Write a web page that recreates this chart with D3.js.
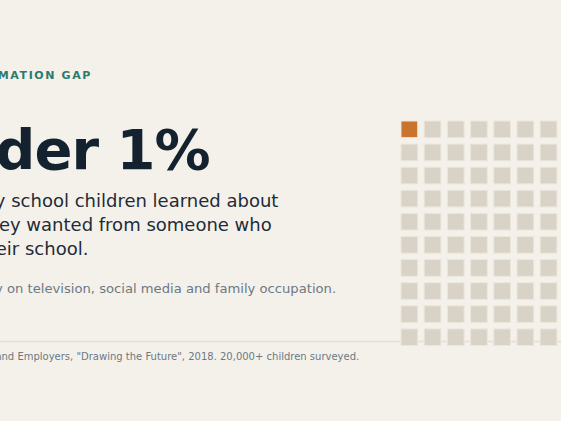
<!DOCTYPE html>
<html>
<head>
<meta charset="utf-8">
<script src="https://cdn.jsdelivr.net/npm/d3@7"></script>
<style>
  html, body { margin: 0; padding: 0; background: #f4f1ea; overflow: hidden; }
  svg { display: block; font-family: "DejaVu Sans", sans-serif; }
</style>
</head>
<body>
<div id="chart"></div>
<script>
// data
const eyebrow = "NEW INFORMATION GAP";
const headline = "Under 1%";
const bodyLines = [
    "of primary school children learned about",
    "the job they wanted from someone who",
    "visited their school."
];
const subLine = "Most kids rely on television, social media and family occupation.";
const sourceLine = "Data: Education and Employers, \"Drawing the Future\", 2018. 20,000+ children surveyed.";

// waffle: 100 children, 1 learned from a school visitor
const total = 100;
const highlighted = 1;
const gridCols = d3.range(10);
const gridRows = d3.range(10);

const width = 561, height = 421;
const left = -88;

const svg = d3.select('#chart').append('svg')
    .attr('width', width)
    .attr('height', height);

svg.append('rect')
    .attr('width', width)
    .attr('height', height)
    .attr('fill', '#f4f1ea');

// divider above the source
svg.append('line')
    .attr('x1', 0).attr('x2', width)
    .attr('y1', 341.5).attr('y2', 341.5)
    .attr('stroke', '#e3dfd6')
    .attr('stroke-width', 1.5);

// text block
svg.append('text')
    .attr('x', left).attr('y', 79)
    .text(eyebrow)
    .style('fill', '#2b7a6e')
    .style('font-weight', 'bold')
    .style('font-size', '11px')
    .style('letter-spacing', '1.6px');

svg.append('text')
    .attr('x', left).attr('y', 169)
    .text(headline)
    .style('fill', '#14222f')
    .style('font-weight', 'bold')
    .style('font-size', '56px')
    .style('letter-spacing', '-1px');

svg.append('g')
    .selectAll('text')
    .data(bodyLines)
    .enter()
    .append('text')
    .attr('x', left)
    .attr('y', (d, i) => 207 + i * 24)
    .text(d => d)
    .style('fill', '#1f2b38')
    .style('font-size', '18px');

svg.append('text')
    .attr('x', left).attr('y', 293)
    .text(subLine)
    .style('fill', '#6d7885')
    .style('font-size', '13.15px');

svg.append('text')
    .attr('x', left).attr('y', 360)
    .text(sourceLine)
    .style('fill', '#6d7885')
    .style('font-size', '10px');

// waffle grid
const xScale = d3.scaleBand()
    .domain(gridCols)
    .range([401, 401 + 23.2 * 9.72])
    .paddingInner(0.28);

const yScale = d3.scaleBand()
    .domain(gridRows)
    .range([121, 121 + 23.1 * 9.72])
    .paddingInner(0.28);

const cells = d3.range(total).map(i => ({
    col: i % 10,
    row: Math.floor(i / 10),
    on: i < highlighted
}));

svg.append('g')
    .selectAll('rect')
    .data(cells)
    .enter()
    .append('rect')
    .attr('x', d => xScale(d.col))
    .attr('y', d => yScale(d.row))
    .attr('width', xScale.bandwidth())
    .attr('height', yScale.bandwidth())
    .attr('fill', d => d.on ? '#c9732f' : '#d9d3c7')
    .attr('stroke', '#ebe6dc')
    .attr('stroke-width', 1);
</script>
</body>
</html>
